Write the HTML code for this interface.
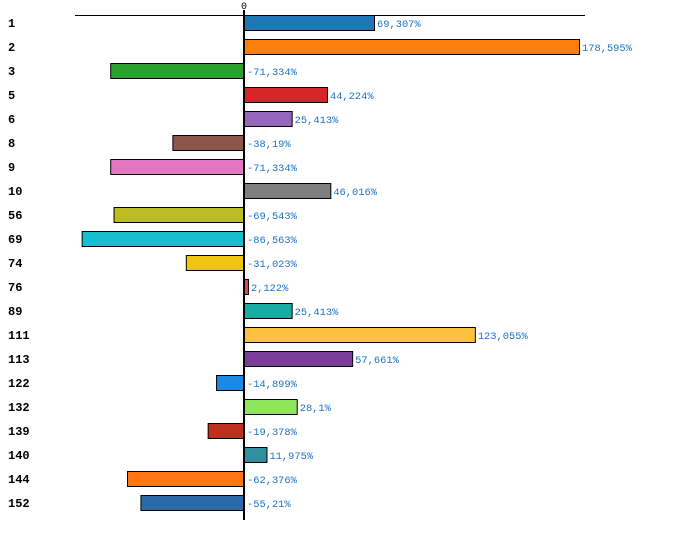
<!DOCTYPE html>
<html><head><meta charset="utf-8"><style>
html,body{margin:0;padding:0;background:#fff;width:700px;height:549px;overflow:hidden}
svg{display:block}
</style></head><body>
<svg id="chart" width="700" height="549" xmlns="http://www.w3.org/2000/svg"></svg>
<script>
const categories=["1","2","3","5","6","8","9","10","56","69","74","76","89","111","113","122","132","139","140","144","152"];
const values=[69.307,178.595,-71.334,44.224,25.413,-38.19,-71.334,46.016,-69.543,-86.563,-31.023,2.122,25.413,123.055,57.661,-14.899,28.1,-19.378,11.975,-62.376,-55.21];
const valueLabels=["69,307%","178,595%","-71,334%","44,224%","25,413%","-38,19%","-71,334%","46,016%","-69,543%","-86,563%","-31,023%","2,122%","25,413%","123,055%","57,661%","-14,899%","28,1%","-19,378%","11,975%","-62,376%","-55,21%"];
const colors=["#1f77b4","#ff7f0e","#2ca02c","#d62728","#9467bd","#8c564b","#e377c2","#7f7f7f","#bcbd22","#17becf","#f1c40f","#e8434f","#1aaba5","#fdc040","#7a3d9a","#1e88e5","#8ee65a","#c0301e","#31909f","#ff7518","#2a6aa8"];
const NS="http://www.w3.org/2000/svg";
const svgEl=document.getElementById('chart');
const x0=244, scale=335/178.595;
const xs=v=>x0+v*scale;
const ys=i=>15+24*i;
function mk(t,a){const e=document.createElementNS(NS,t);for(const k in a)e.setAttribute(k,a[k]);svgEl.appendChild(e);return e;}
const topLine=mk('line',{x1:75,y1:15.5,x2:585,y2:15.5,stroke:'#000','stroke-width':1});


categories.forEach((c,i)=>{
  const v=values[i],y=ys(i);
  const x=Math.min(xs(0),xs(v)),w=Math.abs(xs(v)-xs(0));
  const r=mk('rect',{x:x+0.5,y:y+0.5,width:Math.max(w,1),height:15,fill:colors[i],stroke:'#000','stroke-width':1});
  
  
  const t=mk('text',{x:8,y:y+12,'font-family':'Liberation Mono, monospace','font-size':12,'font-weight':'bold',fill:'#000'});
  t.textContent=c;
  
  
  const lx=(v>=0?xs(v):xs(0))+3;
  const vl=mk('text',{x:lx,y:y+12,'font-family':'Liberation Mono, monospace','font-size':10.4,fill:'#1a73c8'});
  vl.textContent=valueLabels[i];
  
  
});
const ax=mk('line',{x1:244,y1:10,x2:244,y2:520,stroke:'#000','stroke-width':2});


const z=mk('text',{x:244,y:9,'text-anchor':'middle','font-family':'Liberation Mono, monospace','font-size':10,fill:'#000'});
z.textContent='0';


</script>
</body></html>
